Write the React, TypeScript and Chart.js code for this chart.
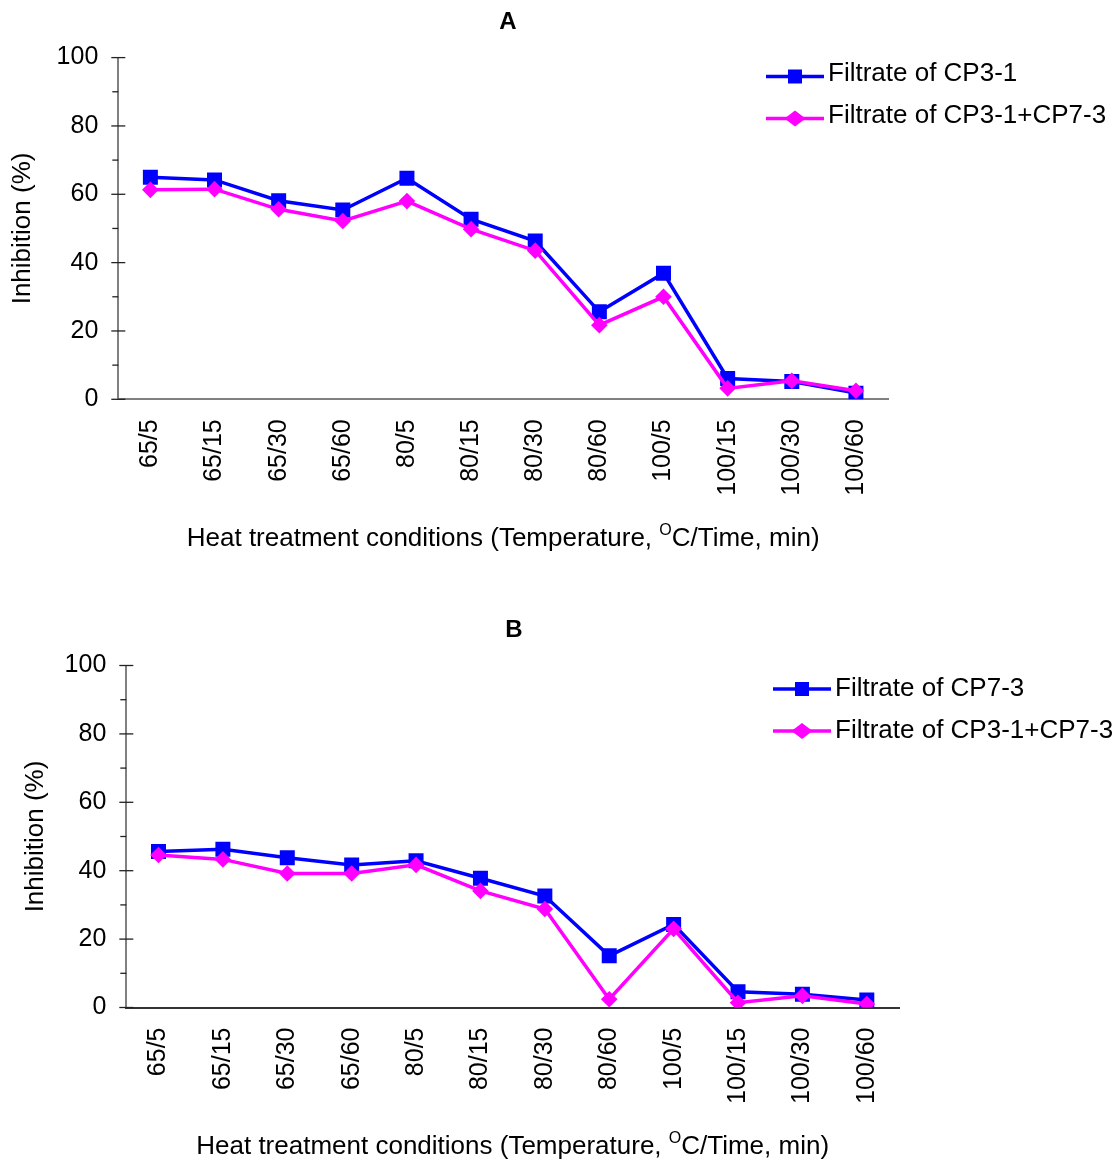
import React, { useEffect, useRef } from "react";
import { Chart, registerables } from "chart.js";

Chart.register(...registerables);

// ---------- data ----------
const categories = ["65/5", "65/15", "65/30", "65/60", "80/5", "80/15", "80/30", "80/60", "100/5", "100/15", "100/30", "100/60"];
const cp31A = [65.0, 64.2, 58.1, 55.4, 64.7, 52.7, 46.3, 25.6, 36.9, 6.1, 5.2, 1.8];
const mixA = [61.3, 61.5, 55.6, 52.2, 58.0, 49.8, 43.5, 21.7, 30.0, 3.2, 5.4, 2.5];
const cp73B = [45.6, 46.3, 43.8, 41.7, 42.9, 37.8, 32.6, 15.1, 24.3, 4.6, 3.9, 2.2];
const mixB = [44.6, 43.3, 39.2, 39.2, 41.7, 34.1, 28.8, 2.4, 23.0, 1.4, 3.4, 1.0];
const yTicks = [0, 20, 40, 60, 80, 100];
const yMinorTicks = [10, 30, 50, 70, 90];
const labelCP31 = "Filtrate of CP3-1";
const labelCP73 = "Filtrate of CP7-3";
const labelMix = "Filtrate of CP3-1+CP7-3";
const yTitle = "Inhibition (%)";
const xTitleA = "Heat treatment conditions (Temperature, ";
const xTitleSup = "O";
const xTitleB = "C/Time, min)";

const FONT = "'Liberation Sans', Arial, Helvetica, sans-serif";
const BLUE = "#0000FF";
const MAGENTA = "#FF00FF";

type Series = { label: string; data: number[]; color: string; style: "rect" | "rectRot"; radius: number; order: number };
type Panel = {
  title: string;
  series: Series[];
  height: number;
  left: number;
  right: number;
  top: number;
  bottom: number;
  titleX: number;
  titleY: number;
  xTitleBase: number;
  yTitleX: number;
  legendX: number;
  legendY: number;
  legendLineDy: number;
  legendGap: number;
  xAxisColor: string;
};

const panels: Panel[] = [
  {
    title: "A",
    series: [
      { label: labelCP31, data: cp31A, color: BLUE, style: "rect", radius: 10.6, order: 1 },
      { label: labelMix, data: mixA, color: MAGENTA, style: "rectRot", radius: 8.3, order: 0 },
    ],
    height: 580,
    left: 118.3,
    right: 888,
    top: 57.6,
    bottom: 399.3,
    titleX: 508,
    titleY: 22,
    xTitleBase: 546,
    yTitleX: 23,
    legendX: 766,
    legendY: 73.5,
    legendLineDy: 3,
    legendGap: 42,
    xAxisColor: "#808080",
  },
  {
    title: "B",
    series: [
      { label: labelCP73, data: cp73B, color: BLUE, style: "rect", radius: 10.6, order: 1 },
      { label: labelMix, data: mixB, color: MAGENTA, style: "rectRot", radius: 8.3, order: 0 },
    ],
    height: 580,
    left: 126.3,
    right: 899,
    top: 85.5,
    bottom: 427.5,
    titleX: 514,
    titleY: 50,
    xTitleBase: 574,
    yTitleX: 36,
    legendX: 773,
    legendY: 108.5,
    legendLineDy: 0.5,
    legendGap: 42,
    xAxisColor: "#333333",
  },
];

function drawMarker(ctx: CanvasRenderingContext2D, style: string, x: number, y: number, color: string) {
  ctx.fillStyle = color;
  ctx.beginPath();
  if (style === "rect") {
    ctx.rect(x - 7, y - 7, 14, 14);
  } else {
    ctx.moveTo(x - 10.5, y);
    ctx.lineTo(x, y - 8);
    ctx.lineTo(x + 10.5, y);
    ctx.lineTo(x, y + 8);
    ctx.closePath();
  }
  ctx.fill();
}

function makeDecor(panel: Panel) {
  return {
    id: "decor" + panel.title,
    afterDraw(chart: any) {
      const ctx: CanvasRenderingContext2D = chart.ctx;
      const { left, right, top, bottom } = chart.chartArea;
      const ys = chart.scales.y;
      ctx.save();
      // y ticks (major crossing, minor outside)
      ctx.strokeStyle = "#222";
      ctx.lineWidth = 1.3;
      yTicks.forEach((v) => {
        const py = ys.getPixelForValue(v);
        ctx.beginPath();
        ctx.moveTo(left - 7, py);
        ctx.lineTo(left + 7, py);
        ctx.stroke();
      });
      yMinorTicks.forEach((v) => {
        const py = ys.getPixelForValue(v);
        ctx.beginPath();
        ctx.moveTo(left - 6, py);
        ctx.lineTo(left, py);
        ctx.stroke();
      });
      ctx.fillStyle = "#000";
      // title
      ctx.font = `bold 24px ${FONT}`;
      ctx.textAlign = "center";
      ctx.textBaseline = "middle";
      ctx.fillText(panel.title, panel.titleX, panel.titleY);
      // y title
      ctx.save();
      ctx.font = `26px ${FONT}`;
      ctx.translate(panel.yTitleX, (top + bottom) / 2);
      ctx.rotate(-Math.PI / 2);
      ctx.textAlign = "center";
      ctx.textBaseline = "middle";
      ctx.fillText(yTitle, 0, 0);
      ctx.restore();
      // x title with superscript
      ctx.textBaseline = "alphabetic";
      ctx.textAlign = "left";
      ctx.font = `26px ${FONT}`;
      const w1 = ctx.measureText(xTitleA).width;
      const w3 = ctx.measureText(xTitleB).width;
      ctx.font = `16px ${FONT}`;
      const w2 = ctx.measureText(xTitleSup).width;
      const total = w1 + w2 + w3;
      let x = (left + right) / 2 - total / 2;
      ctx.font = `26px ${FONT}`;
      ctx.fillText(xTitleA, x, panel.xTitleBase);
      x += w1;
      ctx.font = `16px ${FONT}`;
      ctx.fillText(xTitleSup, x, panel.xTitleBase - 11);
      x += w2;
      ctx.font = `26px ${FONT}`;
      ctx.fillText(xTitleB, x, panel.xTitleBase);
      // legend
      chart.data.datasets.forEach((ds: any, i: number) => {
        const ry = panel.legendY + i * panel.legendGap;
        const ly = ry + panel.legendLineDy;
        ctx.strokeStyle = ds.borderColor;
        ctx.lineWidth = 3.5;
        ctx.beginPath();
        ctx.moveTo(panel.legendX, ly);
        ctx.lineTo(panel.legendX + 58, ly);
        ctx.stroke();
        drawMarker(ctx, ds.pointStyle, panel.legendX + 29, ly, ds.borderColor);
        ctx.fillStyle = "#000";
        ctx.font = `26px ${FONT}`;
        ctx.textAlign = "left";
        ctx.textBaseline = "middle";
        ctx.fillText(ds.label, panel.legendX + 62, ry);
      });
      ctx.restore();
    },
  };
}

function PanelChart({ panel, top }: { panel: Panel; top: number }) {
  const ref = useRef<HTMLCanvasElement>(null);
  useEffect(() => {
    const canvas = ref.current!;
    const chart = new Chart(canvas, {
      type: "line",
      data: {
        labels: categories,
        datasets: panel.series.map((s) => ({
          label: s.label,
          data: s.data,
          borderColor: s.color,
          backgroundColor: s.color,
          pointBackgroundColor: s.color,
          pointBorderColor: s.color,
          pointBorderWidth: 0,
          pointStyle: s.style,
          pointRadius: s.radius,
          borderWidth: 3.5,
          tension: 0,
          fill: false,
          order: s.order,
        })),
      },
      options: {
        responsive: false,
        animation: false,
        events: [],
        layout: {
          padding: { left: 0, top: panel.top, right: 1114 - panel.right, bottom: 0 },
        },
        plugins: {
          legend: { display: false },
          title: { display: false },
          tooltip: { enabled: false },
        },
        scales: {
          x: {
            type: "category",
            offset: true,
            grid: { display: false, drawTicks: false },
            border: { display: true, color: panel.xAxisColor, width: 2 },
            ticks: {
              autoSkip: false,
              maxRotation: 90,
              minRotation: 90,
              padding: 20,
              color: "#000",
              font: { family: FONT, size: 25 },
            },
            afterFit: (scale: any) => {
              scale.height = panel.height - panel.bottom;
            },
          },
          y: {
            min: 0,
            max: 100,
            grid: { display: false, drawTicks: false },
            border: { display: true, color: "#808080", width: 2 },
            ticks: {
              stepSize: 20,
              padding: 20,
              color: "#000",
              font: { family: FONT, size: 25 },
            },
            afterFit: (scale: any) => {
              scale.width = panel.left;
            },
          },
        },
      },
      plugins: [makeDecor(panel)],
    } as any);
    return () => chart.destroy();
  }, [panel]);
  return (
    <canvas
      ref={ref}
      width={1114}
      height={panel.height}
      style={{ position: "absolute", left: 0, top, width: 1114, height: panel.height }}
    />
  );
}

export default function App() {
  return (
    <div style={{ position: "absolute", left: 0, top: 0, width: 1114, height: 1160, background: "#fff" }}>
      <PanelChart panel={panels[0]} top={0} />
      <PanelChart panel={panels[1]} top={580} />
    </div>
  );
}
